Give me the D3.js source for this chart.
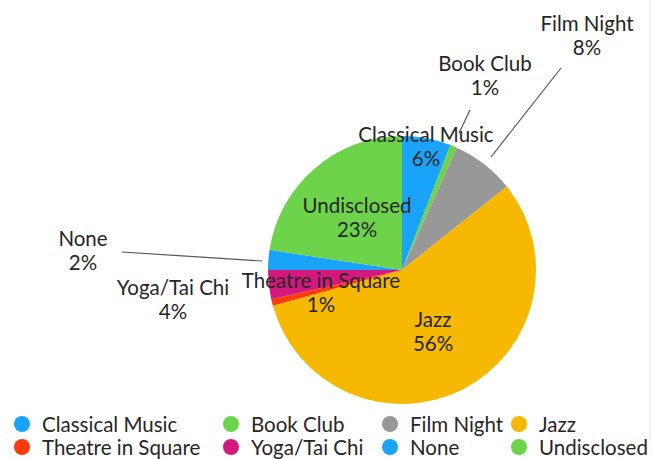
<!DOCTYPE html>
<html><head><meta charset="utf-8">
<script src="https://cdn.jsdelivr.net/npm/d3@7/dist/d3.min.js"></script>
<style>
html,body{margin:0;padding:0;background:#fff;}
svg{display:block;}
text{font-family:Lato,"Open Sans",sans-serif;fill:#262626;}
</style></head>
<body>
<svg id="chart" width="653" height="459"></svg>
<script>
const categories = ["Classical Music","Book Club","Film Night","Jazz","Theatre in Square","Yoga/Tai Chi","None","Undisclosed"];
const values = [5.9, 0.8, 7.6, 56.4, 0.8, 3.5, 2.4, 22.6];
const percentLabels = ["6%","1%","8%","56%","1%","4%","2%","23%"];
const colors = ["#1aa3fb","#6dd34a","#989898","#f6b800","#fc3a0c","#d4197d","#1aa3fb","#6dd34a"];

const svg = d3.select("#chart");
const cx = 402, cy = 270, r = 134;
const fs = 20.5;

svg.append("line").attr("x1",650).attr("x2",650).attr("y1",0).attr("y2",440)
  .attr("stroke","#e2e2e2").attr("stroke-width",1);

const pie = d3.pie().sort(null).value(d => d)(values);
const arc = d3.arc().innerRadius(0).outerRadius(r);
const g = svg.append("g").attr("transform",`translate(${cx},${cy})`);
g.selectAll("path").data(pie).join("path")
  .attr("d",arc).attr("fill",(d,i)=>colors[i]);

const labelPos = [
  {x:426,y:134},
  {x:485,y:63, line:[[470,110],[459,133]]},
  {x:587,y:23, line:[[561,68],[491,157]]},
  {x:433,y:319},
  {x:321,y:280},
  {x:173,y:287},
  {x:83,y:238, line:[[122,252],[262,261]]},
  {x:357,y:205}
];
const lh = 24;
labelPos.forEach((p,i)=>{
  if(p.line){
    svg.append("line").attr("x1",p.line[0][0]).attr("y1",p.line[0][1])
      .attr("x2",p.line[1][0]).attr("y2",p.line[1][1])
      .attr("stroke","#555").attr("stroke-width",1.2);
  }
  const t = svg.append("text").attr("text-anchor","middle").attr("font-size",fs)
    .attr("x",p.x).attr("y",p.y).attr("dominant-baseline","central");
  t.append("tspan").attr("x",p.x).attr("dy",0).text(categories[i]);
  t.append("tspan").attr("x",p.x).attr("dy",lh).text(percentLabels[i]);
});

const legX = [22,231,390,519];
const legY = [424,447];
categories.forEach((c,i)=>{
  const col = i%4, row = Math.floor(i/4);
  const lg = svg.append("g").attr("transform",`translate(${legX[col]},${legY[row]})`);
  lg.append("circle").attr("r",8).attr("fill",colors[i]);
  lg.append("text").attr("x",20).attr("y",0).attr("dominant-baseline","central")
    .attr("font-size",fs).text(c);
});
</script>
</body></html>
